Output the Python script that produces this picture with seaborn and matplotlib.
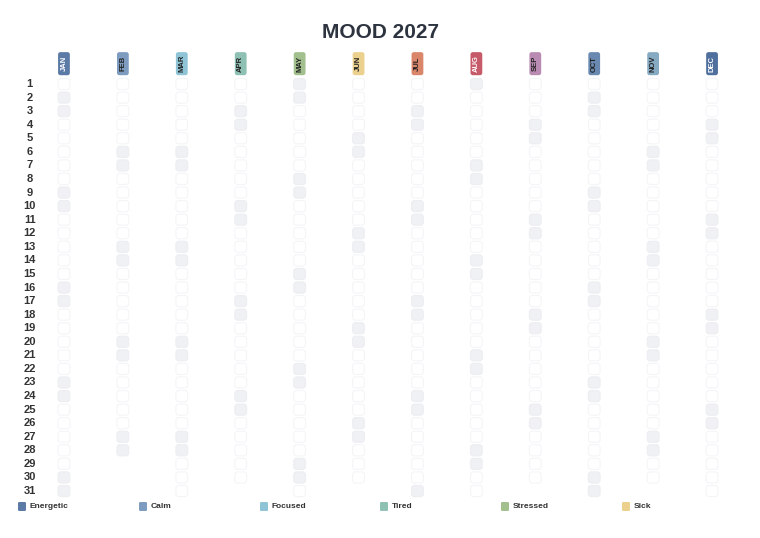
import matplotlib
matplotlib.use("Agg")
import matplotlib.pyplot as plt
import seaborn as sns
from matplotlib.patches import FancyBboxPatch

sns.set_theme(style="white")
plt.rcParams['font.family'] = ['Liberation Sans', 'DejaVu Sans']

months = ["JAN","FEB","MAR","APR","MAY","JUN","JUL","AUG","SEP","OCT","NOV","DEC"]
month_days = [31,28,31,30,31,30,31,31,30,31,30,31]
month_colors = ["#5b7aa6","#7d9cbf","#8ec4d6","#8fc0b4","#a2c08d","#ecd08e",
                "#d9866a","#c65a68","#b98bb2","#6a89b0","#86aac2","#4f6f9c"]
month_text = ["white","#222","#222","#222","#222","#222","#222","white","#222","#222","#222","white"]
shaded = {
    "JAN":[2,3,9,10,16,17,23,24,30,31],
    "FEB":[6,7,13,14,20,21,27,28],
    "MAR":[6,7,13,14,20,21,27,28],
    "APR":[3,4,10,11,17,18,24,25],
    "MAY":[1,2,8,9,15,16,22,23,29,30],
    "JUN":[5,6,12,13,19,20,26,27],
    "JUL":[3,4,10,11,17,18,24,25,31],
    "AUG":[1,7,8,14,15,21,22,28,29],
    "SEP":[4,5,11,12,18,19,25,26],
    "OCT":[2,3,9,10,16,17,23,24,30,31],
    "NOV":[6,7,13,14,20,21,27,28],
    "DEC":[4,5,11,12,18,19,25,26],
}
legend_labels = ["Energetic","Calm","Focused","Tired","Stressed","Sick"]
legend_colors = ["#5b7aa6","#7d9cbf","#8ec4d6","#8fc0b4","#a2c08d","#ecd08e"]

W, H = 760, 538
fig = plt.figure(figsize=(W/100, H/100), dpi=100)
ax = fig.add_axes([34.5/W, 1-497.8/H, 707/W, 447.7/H])
ax.set_xlim(-0.5, 11.5)
ax.set_ylim(31.5, -1.5)
ax.axis("off")

cw, ch = 0.2, 0.82
for i, m in enumerate(months):
    for d in range(1, month_days[i]+1):
        wk = d in shaded[m]
        p = FancyBboxPatch((i-cw/2, d-ch/2), cw, ch,
                           boxstyle="round,pad=0,rounding_size=0.05",
                           mutation_aspect=4.3,
                           fc="#eff1f4" if wk else "white",
                           ec="#eceef2" if wk else "#f4f5f7", lw=0.8)
        ax.add_patch(p)
    hb = FancyBboxPatch((i-0.1, -1.35), 0.2, 1.7,
                        boxstyle="round,pad=0,rounding_size=0.04",
                        mutation_aspect=4.3, fc=month_colors[i], ec="none")
    ax.add_patch(hb)
    ax.text(i, -0.5, m, rotation=90, ha="center", va="center",
            fontsize=5.5, fontweight="bold", color=month_text[i])

for d in range(1, 32):
    ax.text(-0.58, d, str(d), ha="center", va="center", fontsize=8,
            fontweight="bold", color="#333", clip_on=False)

fig.text(0.5, 1-32/H, "MOOD 2027", ha="center", va="center",
         fontsize=15, fontweight="bold", color="#2d3440")

lx = [18, 139, 260, 380, 501, 622]
for x, lab, c in zip(lx, legend_labels, legend_colors):
    fig.patches.append(FancyBboxPatch((x/W, 1-511/H), 8/W, 9/H,
                       boxstyle="round,pad=0,rounding_size=0.002",
                       fc=c, ec="none", transform=fig.transFigure, figure=fig))
    fig.text((x+12)/W, 1-506/H, lab, ha="left", va="center",
             fontsize=6, fontweight="bold", color="#333")

fig.savefig("out.png", dpi=100, facecolor="white")
